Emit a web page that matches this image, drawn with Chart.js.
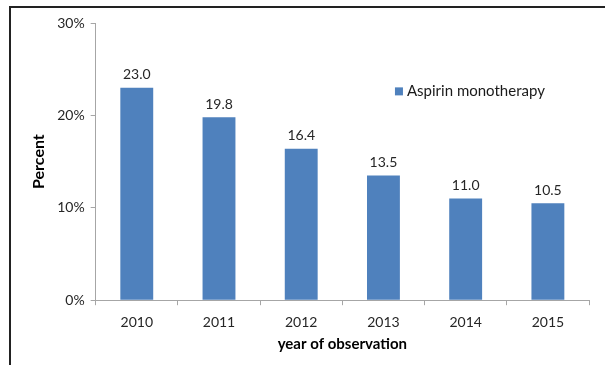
<!DOCTYPE html>
<html>
<head>
<meta charset="utf-8">
<script src="https://cdn.jsdelivr.net/npm/chart.js@4"></script>
<style>
  html, body { margin: 0; padding: 0; background: #fff; }
  #frame { position: absolute; left: 9px; top: 6px; width: 596px; height: 359px;
           border-left: 2px solid #222; border-top: 2px solid #222; }
  #wrap { position: absolute; left: 0; top: 0; width: 605px; height: 365px; }
</style>
</head>
<body>
<div id="frame"></div>
<div id="wrap"><canvas id="chart"></canvas></div>
<script>
const years = ['2010', '2011', '2012', '2013', '2014', '2015'];
const aspirinPct = [23.0, 19.8, 16.4, 13.5, 11.0, 10.5];
const seriesName = 'Aspirin monotherapy';
const yTicks = [0, 10, 20, 30];

const FONT = 'Lato, "Open Sans", sans-serif';
const barColor = '#4F81BD';

// value labels above bars + legend inside the plot
const extras = {
    id: 'extras',
    afterDatasetsDraw(chart) {
        const ctx = chart.ctx;
        ctx.save();
        ctx.font = '14px ' + FONT;
        ctx.fillStyle = '#262626';
        ctx.textAlign = 'center';
        ctx.textBaseline = 'bottom';
        chart.getDatasetMeta(0).data.forEach((bar, i) => {
            ctx.fillText(aspirinPct[i].toFixed(1), bar.x, bar.y - 6);
        });
        // legend
        const x = chart.scales.x.getPixelForValue(3.14);
        const y = chart.scales.y.getPixelForValue(22.6);
        ctx.fillStyle = barColor;
        ctx.fillRect(x, y - 4, 8, 8);
        ctx.fillStyle = '#1a1a1a';
        ctx.textAlign = 'left';
        ctx.textBaseline = 'middle';
        ctx.font = '15px ' + FONT;
        ctx.fillText(seriesName, x + 12, y);
        ctx.restore();
    }
};

new Chart(document.getElementById('chart'), {
    type: 'bar',
    data: {
        labels: years,
        datasets: [{
            label: seriesName,
            data: aspirinPct,
            backgroundColor: barColor,
            barPercentage: 0.8,
            categoryPercentage: 0.5
        }]
    },
    options: {
        responsive: true,
        maintainAspectRatio: false,
        animation: false,
        layout: { padding: { left: 29, right: 16, top: 23, bottom: 12 } },
        plugins: {
            legend: { display: false },
            tooltip: { enabled: false }
        },
        scales: {
            x: {
                grid: { offset: true, drawOnChartArea: false, tickLength: 5, color: '#a6a6a6' },
                border: { color: '#a6a6a6' },
                ticks: { color: '#262626', font: { family: FONT, size: 14 }, padding: 9 },
                title: { display: true, text: 'year of observation', color: '#000',
                         font: { family: FONT, size: 15, weight: 'bold' }, padding: { top: -5, bottom: 0 } }
            },
            y: {
                min: 0, max: 30,
                afterBuildTicks: (axis) => { axis.ticks = yTicks.map(v => ({ value: v })); },
                grid: { drawOnChartArea: false, tickLength: 5, color: '#a6a6a6' },
                border: { color: '#a6a6a6' },
                ticks: { color: '#262626', font: { family: FONT, size: 14 }, padding: 6,
                         callback: v => v + '%' },
                title: { display: true, text: 'Percent', color: '#000',
                         font: { family: FONT, size: 16, weight: 'bold' }, padding: { top: 0, bottom: 3 } }
            }
        }
    },
    plugins: [extras]
});
</script>
</body>
</html>
